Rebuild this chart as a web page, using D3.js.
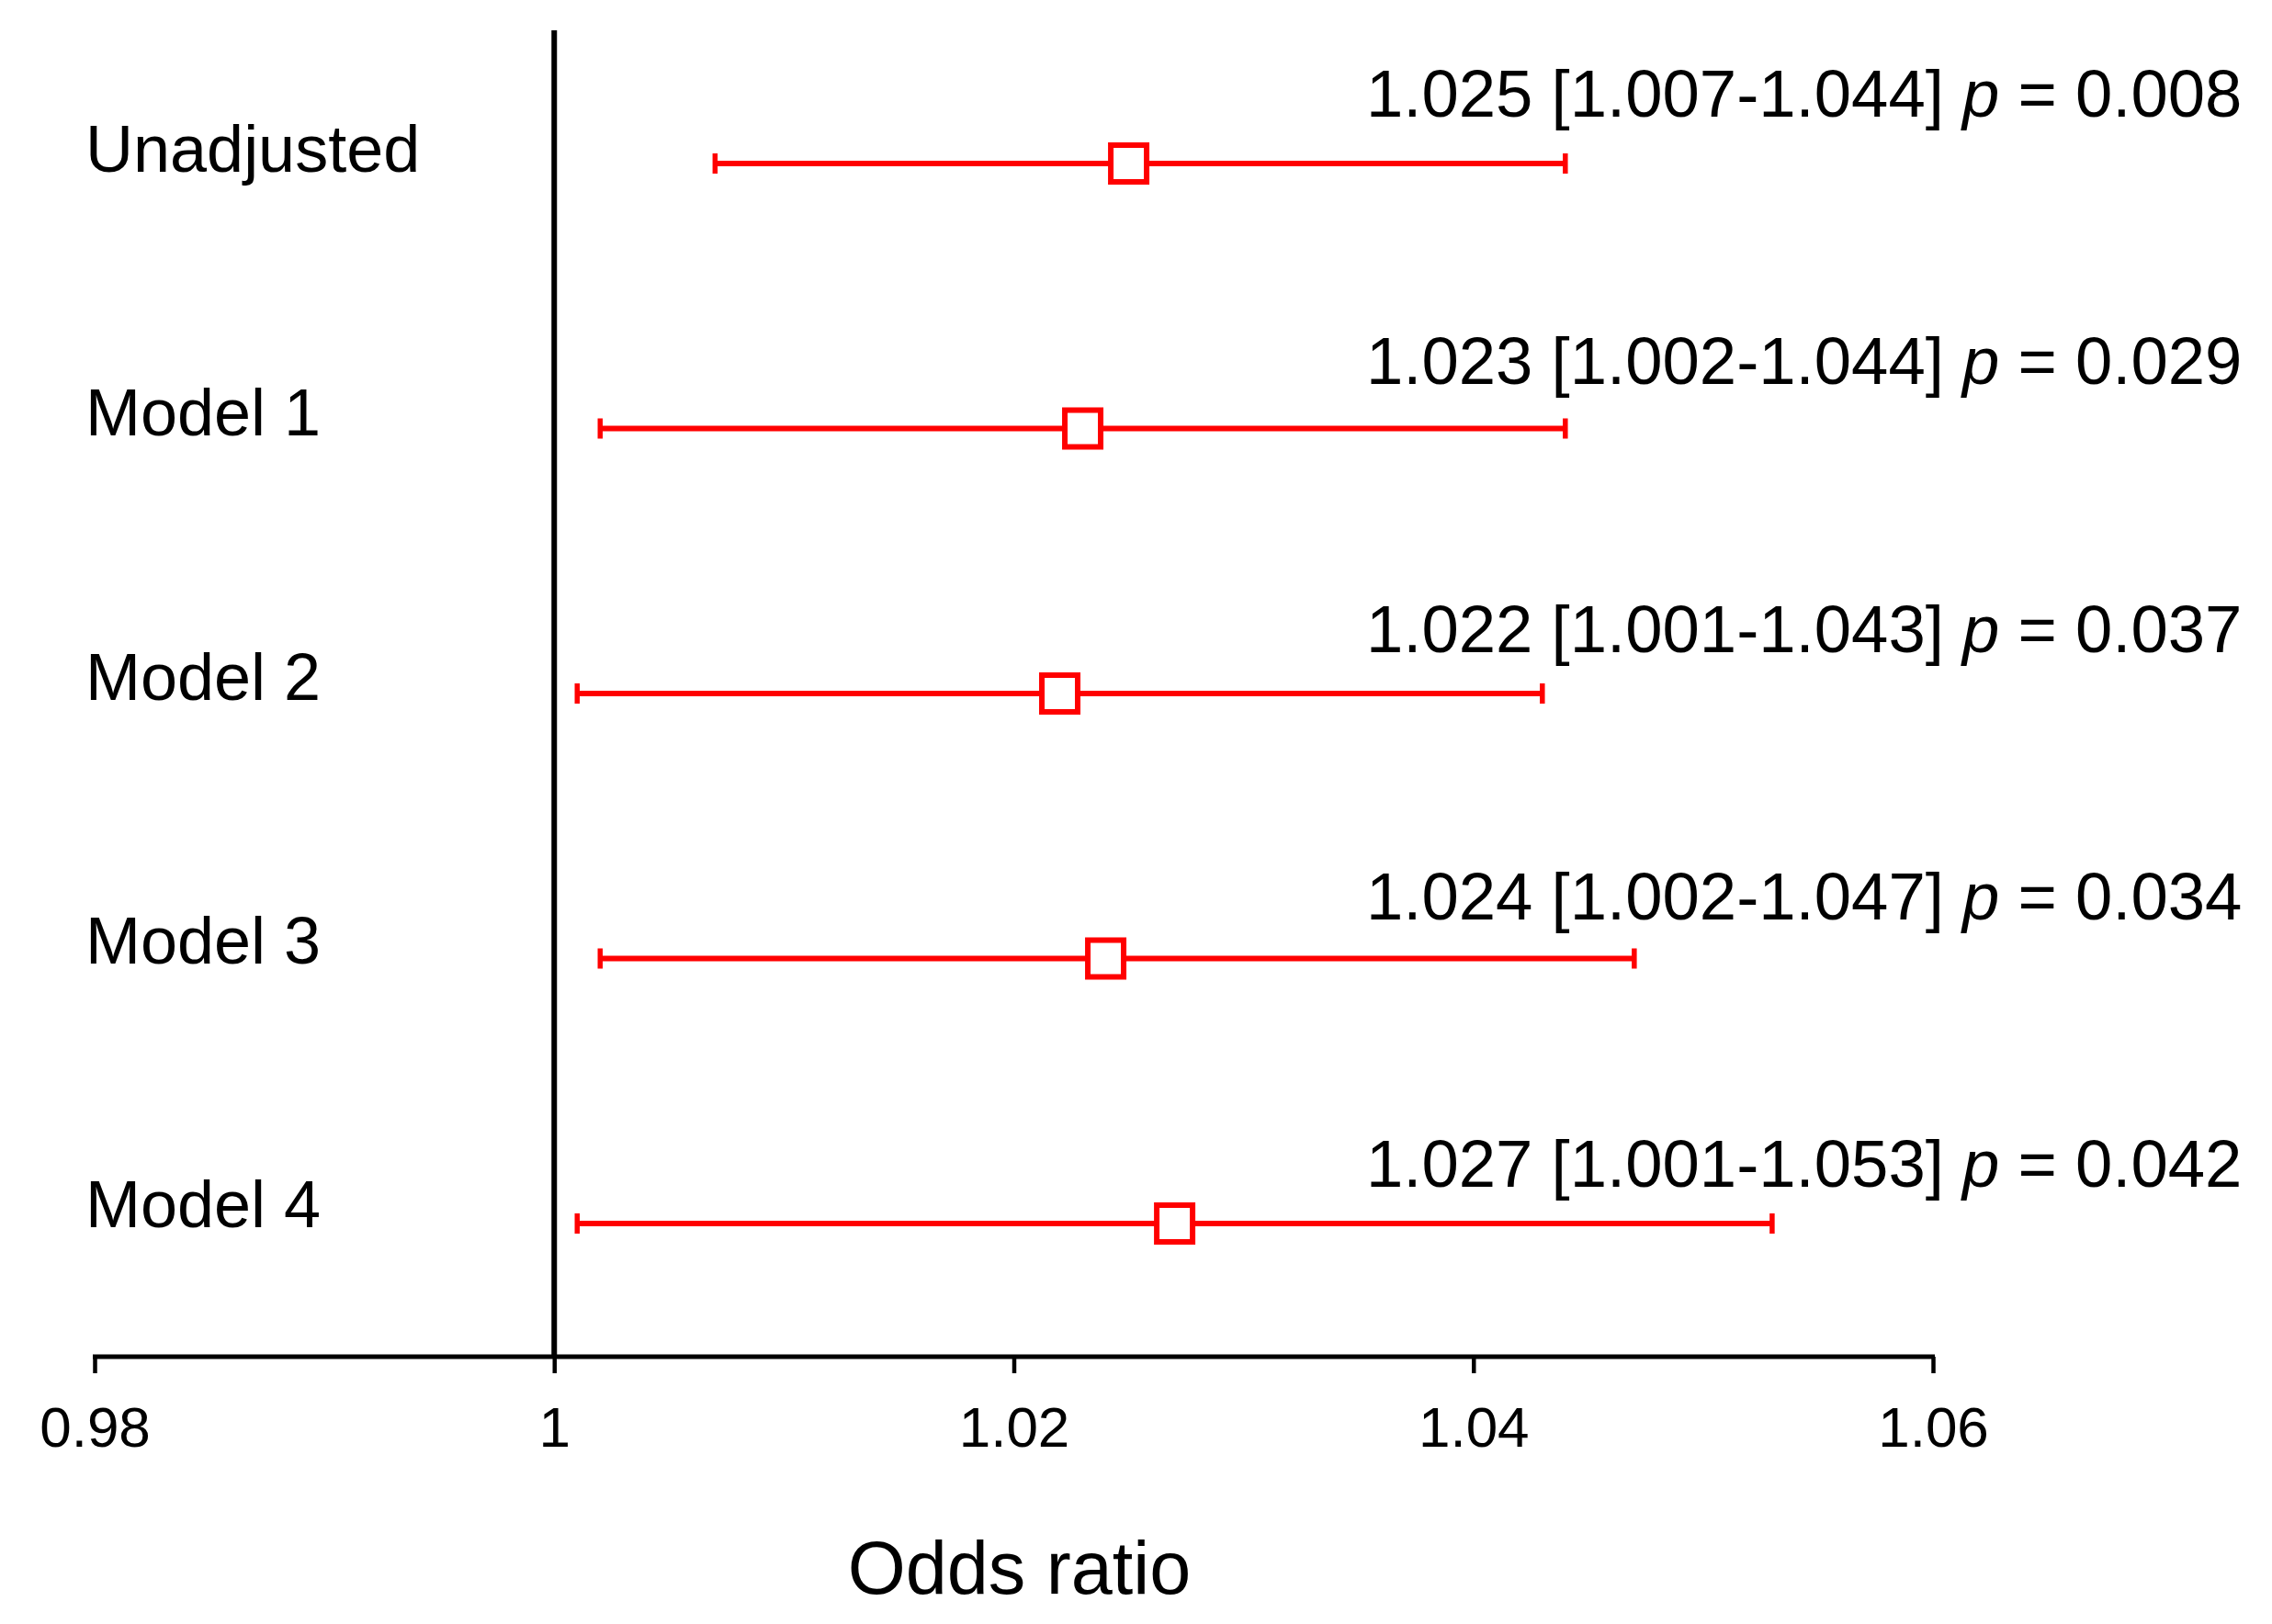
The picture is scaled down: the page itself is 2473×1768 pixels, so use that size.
<!DOCTYPE html>
<html>
<head>
<meta charset="utf-8">
<script src="https://cdn.jsdelivr.net/npm/d3@7"></script>
<style>
  html, body { margin: 0; padding: 0; background: #fff; }
  svg { display: block; }
  text { font-family: "Liberation Sans", Arial, sans-serif; fill: #000; }
</style>
</head>
<body>
<svg id="chart" width="2473" height="1768"></svg>
<script>
const categories = ["Unadjusted", "Model 1", "Model 2", "Model 3", "Model 4"];
const oddsRatios = [1.025, 1.023, 1.022, 1.024, 1.027];
const lowerCI = [1.007, 1.002, 1.001, 1.002, 1.001];
const upperCI = [1.044, 1.044, 1.043, 1.047, 1.053];
const pValues = ["0.008", "0.029", "0.037", "0.034", "0.042"];
const xTicks = [0.98, 1.00, 1.02, 1.04, 1.06];
const xTickLabels = ["0.98", "1", "1.02", "1.04", "1.06"];
const xTitle = "Odds ratio";

const rows = categories.map((c, i) => ({
  cat: c, or: oddsRatios[i], lo: lowerCI[i], hi: upperCI[i], p: pValues[i]
}));

const svg = d3.select("#chart");
const red = "#ff0000";

const x = d3.scaleLinear().domain([0.98, 1.06]).range([103, 2104]);
const yBar = d3.scalePoint().domain(categories).range([178, 1332]);
const yLabel = d3.scalePoint().domain(categories).range([187, 1336]);
const yNote = d3.scalePoint().domain(categories).range([127, 1292]);
const axisY = 1477;
const fmt = d3.format(".3f");

// Reference line at OR = 1
svg.append("line")
  .attr("x1", x(1)).attr("x2", x(1))
  .attr("y1", 33).attr("y2", axisY)
  .attr("stroke", "#000").attr("stroke-width", 6);

// x axis
const axis = d3.axisBottom(x)
  .tickValues(xTicks)
  .tickFormat((d, i) => xTickLabels[i])
  .tickSizeOuter(0)
  .tickSizeInner(18)
  .tickPadding(34);
const gAxis = svg.append("g")
  .attr("transform", `translate(0,${axisY})`)
  .call(axis);
gAxis.select(".domain").attr("stroke", "#000").attr("stroke-width", 5)
  .attr("d", `M${x(0.98) - 2},0H${x(1.06) + 2}`);
gAxis.selectAll(".tick line").attr("stroke", "#000").attr("stroke-width", 4.5);
gAxis.selectAll(".tick text")
  .attr("font-family", "'Liberation Sans', Arial, sans-serif")
  .attr("font-size", 62)
  .attr("fill", "#000")
  .attr("dy", null)
  .attr("y", 98);

// Axis title
svg.append("text")
  .attr("x", (x(0.98) + x(1.06)) / 2 + 6)
  .attr("y", 1735)
  .attr("text-anchor", "middle")
  .attr("font-size", 81)
  .text(xTitle);

// Row labels
svg.selectAll("text.rowlabel")
  .data(rows).enter().append("text")
  .attr("class", "rowlabel")
  .attr("x", 93)
  .attr("y", d => yLabel(d.cat))
  .attr("font-size", 72)
  .text(d => d.cat);

// Error bars
const g = svg.selectAll("g.row").data(rows).enter().append("g").attr("class", "row");
g.append("line")
  .attr("x1", d => x(d.lo)).attr("x2", d => x(d.hi))
  .attr("y1", d => yBar(d.cat)).attr("y2", d => yBar(d.cat))
  .attr("stroke", red).attr("stroke-width", 6);
g.append("line")
  .attr("x1", d => x(d.lo)).attr("x2", d => x(d.lo))
  .attr("y1", d => yBar(d.cat) - 11).attr("y2", d => yBar(d.cat) + 11)
  .attr("stroke", red).attr("stroke-width", 5.5);
g.append("line")
  .attr("x1", d => x(d.hi)).attr("x2", d => x(d.hi))
  .attr("y1", d => yBar(d.cat) - 11).attr("y2", d => yBar(d.cat) + 11)
  .attr("stroke", red).attr("stroke-width", 5.5);
g.append("rect")
  .attr("x", d => x(d.or) - 19.5).attr("y", d => yBar(d.cat) - 20)
  .attr("width", 39).attr("height", 40)
  .attr("fill", "#fff").attr("stroke", red).attr("stroke-width", 6);

// Annotations
const notes = svg.selectAll("text.note")
  .data(rows).enter().append("text")
  .attr("class", "note")
  .attr("x", 1487)
  .attr("y", d => yNote(d.cat))
  .attr("font-size", 72.5);
notes.append("tspan").text(d => `${fmt(d.or)} [${fmt(d.lo)}-${fmt(d.hi)}] `);
notes.append("tspan").attr("font-style", "italic").text("p");
notes.append("tspan").text(d => ` = ${d.p}`);
</script>
</body>
</html>
